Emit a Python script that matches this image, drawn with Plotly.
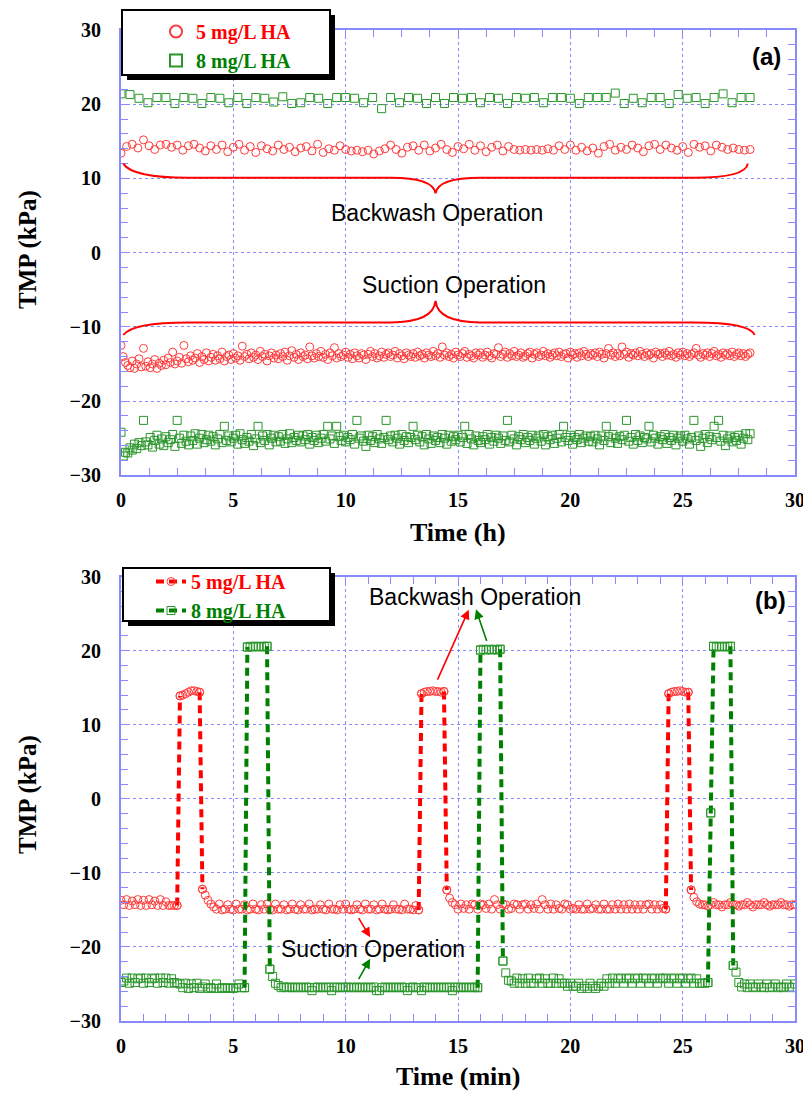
import plotly.graph_objects as go

# ---------------- DATA ----------------
# Panel (a): long-term operation, time in hours
a_bw5_t0, a_bw5_dt = 0.0, 0.25      # 5 mg/L backwash samples (h)
a_bw8_t0, a_bw8_dt = 0.0, 0.4       # 8 mg/L backwash samples (h)
a_su_t0, a_su_dt = 0.0, 0.1         # suction samples (h)

a_backwash_5 = [
    13.4, 14.3, 14.6, 14.1, 15.2, 14.4, 13.9, 14.5,
    14.6, 14.2, 14.5, 13.8, 14.4, 14.6, 14.1, 13.7,
    14.4, 13.9, 14.5, 13.6, 14.2, 14.6, 13.8, 14.3,
    13.5, 14.4, 14.0, 13.7, 14.5, 13.9, 14.2, 13.6,
    14.1, 14.3, 13.7, 14.6, 13.5, 14.0, 13.8, 14.4,
    13.9, 13.7, 13.8, 13.6, 13.8, 13.3, 13.7, 14.0,
    14.5, 13.9, 13.4, 14.2, 14.4, 13.8, 14.5, 13.7,
    14.1, 14.6, 13.9, 13.5, 14.3, 14.0, 14.6, 13.8,
    14.4, 13.6, 14.2, 14.5, 13.7, 14.3, 13.9, 13.8,
    13.9, 13.8, 13.9, 13.8, 14.0, 13.8, 14.4, 13.9,
    14.5, 13.8, 14.2, 13.7, 14.1, 13.4, 14.3, 14.6,
    13.8, 14.2, 13.9, 14.5, 14.1, 13.6, 14.4, 14.6,
    13.9, 14.5, 14.1, 13.8, 14.3, 13.5, 14.6, 14.2,
    14.4, 13.7, 14.5, 14.2, 13.9, 14.1, 13.9, 13.8,
    13.9,
]
a_backwash_8 = [
    21.4, 21.3, 20.8, 20.2, 20.9, 20.9, 20.1, 20.9, 20.8, 20.1,
    20.9, 20.8, 20.2, 20.9, 20.1, 20.9, 20.8, 20.3, 21.0, 20.1,
    20.2, 20.9, 20.8, 20.1, 20.9, 20.9, 20.8, 20.2, 20.9, 19.4,
    20.9, 20.2, 20.9, 20.8, 20.1, 20.9, 20.1, 20.9, 20.8, 20.9,
    20.2, 20.9, 20.8, 20.1, 20.9, 20.8, 20.9, 20.2, 20.9, 20.9,
    20.8, 20.1, 20.9, 20.9, 20.9, 21.5, 20.1, 20.8, 20.2, 20.9,
    20.9, 20.1, 21.3, 20.8, 20.9, 20.1, 20.9, 21.4, 20.2, 20.9,
    20.9,
]
a_suction_5 = [
    -12.5, -14.0, -14.8, -15.2, -15.5, -14.6, -15.6, -15.0, -14.3, -15.4,
    -12.9, -15.3, -14.7, -15.5, -15.0, -14.4, -15.6, -14.9, -15.2, -14.5,
    -15.1, -14.2, -14.8, -13.4, -15.0, -14.6, -14.1, -14.9, -12.5, -14.3,
    -14.7, -13.9, -14.5, -14.2, -13.6, -14.8, -14.0, -14.4, -13.5, -14.6,
    -14.1, -13.7, -14.5, -13.9, -14.3, -13.4, -14.6, -14.0, -13.8, -14.4,
    -13.6, -14.2, -13.9, -14.5, -12.6, -14.0, -13.7, -14.3, -13.5, -14.1,
    -13.8, -14.4, -13.3, -14.0, -13.7, -14.6, -13.9, -13.5, -14.2, -13.8,
    -14.3, -13.6, -14.0, -13.4, -14.5, -13.9, -13.2, -14.1, -13.7, -14.4,
    -13.5, -14.0, -13.8, -14.3, -12.7, -13.9, -14.2, -13.6, -14.0, -13.3,
    -14.1, -13.7, -14.4, -13.5, -13.9, -12.8, -14.2, -13.6, -14.0, -13.8,
    -13.4, -14.1, -13.7, -14.3, -13.5, -13.9, -14.2, -13.6, -13.8, -14.4,
    -13.7, -13.3, -14.0, -13.6, -14.2, -13.9, -13.4, -14.1, -13.7, -13.5,
    -14.0, -13.8, -13.3, -14.2, -13.6, -13.9, -14.3, -13.5, -13.8, -14.0,
    -13.6, -14.1, -13.4, -13.9, -13.7, -14.2, -13.5, -13.8, -14.0, -13.3,
    -13.9, -13.6, -14.1, -12.7, -13.8, -13.5, -14.0, -13.7, -14.2, -13.4,
    -13.8, -14.0, -13.6, -13.3, -14.1, -13.7, -13.9, -14.2, -13.5, -13.8,
    -13.5, -14.1, -13.8, -13.4, -13.9, -14.2, -13.6, -13.7, -12.8, -14.0,
    -13.7, -13.4, -14.1, -13.6, -13.9, -13.3, -14.0, -13.8, -13.5, -14.1,
    -13.9, -13.6, -13.4, -14.2, -13.7, -13.5, -14.0, -13.8, -13.3, -13.9,
    -13.6, -14.1, -13.8, -13.5, -13.9, -13.4, -14.0, -13.7, -13.6, -14.2,
    -13.4, -13.8, -13.6, -14.1, -13.5, -13.9, -13.3, -13.7, -14.0, -13.6,
    -13.8, -13.5, -14.0, -13.4, -13.7, -14.2, -13.6, -12.9, -13.8, -13.5,
    -14.0, -13.6, -13.9, -12.7, -13.7, -13.4, -14.1, -13.6, -13.8, -13.5,
    -13.9, -13.3, -13.7, -14.0, -13.5, -13.8, -13.6, -14.2, -13.4, -13.7,
    -13.6, -14.0, -13.5, -13.8, -13.3, -13.9, -13.7, -14.1, -13.5, -13.8,
    -13.4, -13.9, -13.6, -14.0, -13.7, -13.5, -12.9, -13.8, -14.1, -13.6,
    -13.8, -13.5, -14.0, -13.6, -13.3, -13.9, -13.7, -14.1, -13.5, -13.8,
    -13.6, -13.9, -13.4, -14.0, -13.7, -13.5, -13.9, -13.6, -14.0, -13.7,
    -13.5,
]
a_suction_8 = [
    -24.2, -27.4, -26.9, -27.0, -26.3, -26.6, -25.8, -26.4, -25.6, -26.0,
    -22.6, -25.5, -25.9, -24.9, -26.2, -25.3, -24.6, -25.8, -25.1, -26.0,
    -24.8, -25.6, -25.2, -24.5, -26.1, -22.6, -25.0, -25.7, -24.6, -25.4,
    -25.9, -24.7, -25.3, -24.4, -25.8, -25.0, -24.5, -25.6, -25.2, -24.6,
    -25.4, -24.8, -25.9, -25.1, -24.5, -25.6, -23.4, -25.3, -24.7, -25.5,
    -25.0, -24.6, -25.8, -24.4, -25.2, -25.7, -24.9, -25.4, -24.5, -26.0,
    -25.1, -23.4, -25.6, -24.7, -25.3, -24.5, -25.9, -25.0, -24.6, -25.5,
    -24.8, -25.4, -24.5, -25.7, -25.1, -24.4, -25.6, -24.9, -25.3, -24.6,
    -25.5, -24.7, -25.2, -24.5, -25.8, -24.9, -25.3, -24.6, -25.6, -25.0,
    -24.5, -25.4, -23.4, -25.1, -24.7, -25.7, -23.4, -24.8, -25.3, -24.6,
    -25.5, -24.9, -25.2, -24.5, -25.8, -22.6, -25.0, -24.7, -25.4, -26.1,
    -24.6, -25.3, -24.8, -25.6, -24.5, -25.1, -25.7, -24.9, -22.6, -25.2,
    -24.7, -25.5, -24.6, -25.0, -25.8, -24.5, -25.3, -24.8, -25.6, -24.9,
    -23.4, -25.2, -24.6, -25.5, -24.8, -25.9, -24.5, -25.1, -25.7, -24.7,
    -25.3, -24.9, -25.6, -24.5, -25.0, -25.8, -24.6, -25.4, -24.8, -25.2,
    -24.6, -25.5, -24.9, -23.4, -25.7, -24.5, -25.1, -25.9, -24.7, -25.3,
    -25.6, -24.8, -25.2, -24.5, -25.8, -24.9, -25.4, -24.6, -25.0, -25.7,
    -24.7, -25.3, -22.6, -25.5, -24.6, -25.1, -25.9, -24.8, -25.2, -24.5,
    -25.6, -24.9, -25.3, -24.6, -25.8, -25.0, -24.7, -25.4, -24.5, -25.9,
    -24.8, -25.2, -24.6, -25.7, -25.0, -24.5, -25.5, -23.4, -24.9, -25.3,
    -24.6, -25.8, -24.9, -25.2, -24.5, -25.6, -25.0, -24.7, -25.4, -24.8,
    -25.5, -24.6, -25.1, -25.9, -24.7, -25.3, -23.4, -24.8, -25.6, -24.5,
    -25.0, -25.7, -24.8, -25.2, -24.6, -22.6, -25.4, -24.9, -25.8, -24.5,
    -25.3, -24.7, -25.6, -24.9, -25.1, -23.4, -25.5, -24.6, -25.0, -25.8,
    -24.8, -25.2, -24.5, -25.7, -24.9, -25.3, -24.6, -25.9, -25.0, -24.7,
    -25.4, -24.6, -25.1, -25.8, -24.9, -22.6, -25.3, -24.7, -26.1, -25.0,
    -24.5, -25.6, -24.8, -25.2, -23.4, -24.9, -22.6, -25.4, -24.6, -26.0,
    -25.1, -24.7, -25.5, -24.9, -25.3, -24.6, -25.8, -25.0, -24.4, -25.2,
    -24.4,
]

# Panel (b): three filtration cycles, time in minutes
b_t0, b_dt = 0.0, 0.125
b_tmp_5 = [
    # 0 - 2.5 min suction
    -13.7, -14.3, -13.6, -14.4, -13.8, -14.3, -13.6, -14.4, -13.7, -14.4,
    -13.6, -14.3, -13.8, -14.4, -13.6, -14.4, -13.9, -14.4, -14.4, -14.4, -14.4,
    # backwash 1
    13.9, 14.0, 14.2, 14.4, 14.6, 14.6, 14.5, 14.4,
    -12.2, -13.0, -13.7, -14.2, -14.6,
    # suction
    -14.9, -14.2, -15.0, -14.9, -14.3, -14.9, -15.0, -14.2, -14.9, -14.9,
    -14.3, -15.0, -14.9, -14.2, -14.9, -15.0, -14.3, -14.9, -14.2, -14.9,
    -15.0, -14.2, -14.9, -14.9, -14.3, -15.0, -14.9, -14.2, -14.9, -15.0,
    -14.3, -14.9, -14.9, -14.2, -15.0, -14.9, -14.9, -14.3, -14.9, -15.0,
    -14.2, -14.9, -14.9, -15.0, -14.3, -14.9, -14.2, -14.9, -15.0, -14.9,
    -14.3, -14.9, -15.0, -14.2, -14.9, -14.9, -14.3, -15.0, -14.9, -14.2,
    -14.9, -15.0, -14.9, -14.3, -14.9, -14.9, -15.0, -14.2, -14.9, -14.9,
    -15.0, -14.4, -15.0,
    # backwash 2
    14.2, 14.4, 14.5, 14.5, 14.6, 14.5, 14.5, 14.4, 14.5,
    -12.3, -13.4, -14.0,
    # suction
    -14.3, -14.9, -14.2, -14.8, -14.3, -14.9, -14.2, -14.3, -14.9, -14.2,
    -14.3, -14.8, -14.2, -14.9, -13.6, -14.3, -14.9, -14.2, -14.3, -14.9,
    -14.8, -14.2, -14.3, -14.9, -14.3, -14.2, -14.9, -14.3, -14.8, -14.2,
    -14.9, -13.6, -14.3, -14.9, -14.2, -14.9, -14.3, -14.8, -14.9, -14.2,
    -14.3, -14.9, -14.8, -14.9, -14.3, -14.9, -14.9, -14.2, -14.9, -14.8,
    -14.3, -14.9, -14.9, -14.2, -14.9, -14.9, -14.3, -14.9, -14.2, -14.9,
    -14.3, -14.9, -14.2, -14.9, -14.3, -14.9, -14.3, -14.9, -14.3, -14.2,
    -14.9, -14.3, -14.9, -14.3, -14.8, -14.9,
    # backwash 3
    14.2, 14.4, 14.5, 14.5, 14.6, 14.5, 14.4, 14.4,
    -12.3, -13.3, -13.9, -14.2,
    # suction
    -14.3, -14.3, -14.5, -14.3, -14.0, -14.3, -14.3, -14.6, -14.3, -14.3,
    -14.0, -14.3, -14.3, -14.5, -14.3, -14.3, -14.0, -14.3, -14.6, -14.3,
    -14.3, -14.3, -14.0, -14.3, -14.5, -14.3, -14.3, -14.3, -14.0, -14.3,
    -14.3, -14.5, -14.3, -14.3,
]
b_tmp_8 = [
    # suction
    -24.8, -24.6, -24.2, -24.9, -24.2, -24.8, -24.3, -24.2, -24.9, -24.2,
    -24.8, -24.3, -24.2, -24.9, -24.2, -24.8, -24.2, -24.9, -24.3, -24.8,
    -24.9, -25.0, -25.5, -24.9, -25.6, -25.0, -25.5, -24.9, -25.6, -25.4,
    -25.0, -25.6, -25.5, -25.6, -25.0, -25.6, -25.5, -25.6, -25.5, -25.6,
    -25.6, -25.5, -25.0, -25.5, -25.5,
    # backwash 1
    20.5, 20.6, 20.5, 20.6, 20.6, 20.5, 20.6, 20.6,
    -23.0, -24.0, -24.9,
    # suction
    -25.2, -25.5, -25.4, -25.5, -25.4, -25.5, -25.5, -25.4, -25.5, -25.5,
    -25.4, -25.5, -25.9, -25.5, -25.4, -25.5, -25.5, -25.4, -25.5, -25.9,
    -25.4, -25.5, -25.5, -25.4, -25.5, -25.4, -25.5, -25.5, -25.4, -25.5,
    -25.5, -25.4, -25.5, -25.5, -25.4, -25.9, -25.9, -25.5, -25.4, -25.5,
    -25.5, -25.4, -25.5, -25.5, -25.4, -25.5, -25.9, -25.5, -25.4, -25.5,
    -25.5, -25.9, -25.4, -25.5, -25.5, -25.4, -25.5, -25.5, -25.4, -25.5,
    -25.5, -25.4, -25.9, -25.5, -25.4, -25.5, -25.5, -25.4, -25.5, -25.5,
    -25.4, -25.5,
    # backwash 2
    20.1, 20.2, 20.1, 20.2, 20.1, 20.2, 20.1, 20.2,
    -21.9, -23.5, -24.5,
    # suction
    -24.6, -24.9, -24.2, -24.9, -24.3, -24.9, -24.2, -24.9, -24.9, -24.3,
    -24.2, -24.9, -24.3, -24.9, -24.9, -24.2, -24.9, -24.3, -24.9, -24.9,
    -25.3, -24.9, -25.3, -25.3, -24.9, -25.6, -25.3, -25.6, -24.9, -25.3,
    -25.6, -25.3, -24.9, -25.3, -24.3, -24.9, -24.2, -24.9, -24.3, -24.2,
    -24.9, -24.3, -24.2, -24.9, -24.3, -24.2, -24.9, -24.2, -24.3, -24.9,
    -24.2, -24.3, -24.9, -24.2, -24.3, -24.2, -24.9, -24.3, -24.2, -24.9,
    -24.3, -24.2, -24.9, -24.3, -24.2, -24.9, -24.3, -24.9, -24.9, -24.9,
    -24.8,
    # backwash 3
    -1.9,
    20.6, 20.5, 20.6, 20.6, 20.5, 20.6, 20.6,
    -22.5, -23.4, -24.8,
    # suction
    -25.4, -25.0, -25.5, -25.0, -25.4, -25.5, -25.0, -25.4, -25.5, -25.0,
    -25.5, -25.4, -25.0, -25.5, -25.4, -25.5, -25.0, -25.4, -25.5, -25.0,
]

series_names = ["5 mg/L HA", "8 mg/L HA"]
x_ticks = [0, 5, 10, 15, 20, 25, 30]
y_ticks = [-30, -20, -10, 0, 10, 20, 30]

# ---------------- STYLE / LAYOUT ----------------
OFF = 8                      # page body margin of the browser
W, H = 811 - OFF, 1093 - OFF
ML, MT = 121 - OFF, 30 - OFF
MR = W - (795 - OFF)
MB = H - (1021 - OFF)
PW, PH = W - ML - MR, H - MT - MB

def px_x(sx):
    # screen pixel -> paper fraction
    return (sx - OFF - ML) / PW

def px_y(sy):
    return (H - MB - (sy - OFF)) / PH

def times(t0, dt, n):
    return [round(t0 + i * dt, 4) for i in range(n)]

def transitions(t, v, thr=5.0):
    xs, ys = [], []
    for i in range(len(v) - 1):
        if abs(v[i + 1] - v[i]) > thr:
            if xs and xs[-1] == t[i]:
                xs.append(t[i + 1]); ys.append(v[i + 1])
            else:
                if xs:
                    xs.append(None); ys.append(None)
                xs += [t[i], t[i + 1]]; ys += [v[i], v[i + 1]]
    return xs, ys

RED, GREEN = "#ff3a3a", "#2a962a"
RED_L, GREEN_L = "#ff0000", "#008000"
AX = "#8a8aff"
SERIF = "Liberation Serif, Times New Roman, serif"
SANS = "Liberation Sans, Arial, sans-serif"

def leg_name(name, color):
    return f"<b><span style='color:{color}'>{name}</span></b>"

fig = go.Figure()

mk5 = dict(symbol="circle-open", size=8, color=RED, line=dict(width=1, color=RED))
mk8 = dict(symbol="square-open", size=8, color=GREEN, line=dict(width=1, color=GREEN))

# Panel (a)
fig.add_trace(go.Scatter(x=times(a_bw5_t0, a_bw5_dt, len(a_backwash_5)), y=a_backwash_5,
                         mode="markers", marker=mk5, name=leg_name(series_names[0], RED_L),
                         legend="legend", xaxis="x", yaxis="y"))
fig.add_trace(go.Scatter(x=times(a_bw8_t0, a_bw8_dt, len(a_backwash_8)), y=a_backwash_8,
                         mode="markers", marker=mk8, name=leg_name(series_names[1], GREEN_L),
                         legend="legend", xaxis="x", yaxis="y"))
fig.add_trace(go.Scatter(x=times(a_su_t0, a_su_dt, len(a_suction_5)), y=a_suction_5,
                         mode="markers", marker=mk5, showlegend=False, xaxis="x", yaxis="y"))
fig.add_trace(go.Scatter(x=times(a_su_t0, a_su_dt, len(a_suction_8)), y=a_suction_8,
                         mode="markers", marker=mk8, showlegend=False, xaxis="x", yaxis="y"))

# Panel (b)
tb5 = times(b_t0, b_dt, len(b_tmp_5))
tb8 = times(b_t0, b_dt, len(b_tmp_8))
for t, v, mk, lc, nm in [(tb5, b_tmp_5, mk5, RED_L, leg_name(series_names[0], RED_L)),
                         (tb8, b_tmp_8, mk8, GREEN_L, leg_name(series_names[1], GREEN_L))]:
    fig.add_trace(go.Scatter(x=t, y=v, mode="markers", marker=mk, showlegend=False,
                             xaxis="x2", yaxis="y2"))
    tx, ty = transitions(t, v)
    fig.add_trace(go.Scatter(x=tx, y=ty, mode="lines+markers", marker=mk,
                             line=dict(color=lc, width=4, dash="8px,5px"),
                             name=nm, legend="legend2", xaxis="x2", yaxis="y2"))

tickfont = dict(family=SERIF, size=20, color="black", weight="bold")
common_axis = dict(range=[0, 30], showline=True, linecolor=AX, linewidth=2, mirror="ticks",
                   ticks="inside", ticklen=7, tickcolor=AX, tickwidth=1,
                   showgrid=True, gridcolor=AX, gridwidth=1, griddash="dot",
                   zeroline=False, tickfont=tickfont, automargin=False)

fig.update_layout(
    width=W, height=H, margin=dict(l=ML, r=MR, t=MT, b=MB, autoexpand=False),
    paper_bgcolor="white", plot_bgcolor="white",
    xaxis=dict(common_axis, domain=[0, 1], anchor="y", tickvals=x_ticks,
               minor=dict(dtick=1.25, tick0=0, ticks="inside", ticklen=7, tickcolor=AX, showgrid=False),
               ticklabelstandoff=6),
    yaxis=dict(common_axis, range=[-30, 30], domain=[px_y(475.3), 1], anchor="x", tickvals=y_ticks,
               minor=dict(dtick=2, tick0=0, ticks="inside", ticklen=7, tickcolor=AX, showgrid=False),
               ticklabelstandoff=14),
    xaxis2=dict(common_axis, domain=[0, 1], anchor="y2", tickvals=x_ticks,
                minor=dict(dtick=1, tick0=0, ticks="inside", ticklen=7, tickcolor=AX, showgrid=False),
                ticklabelstandoff=6),
    yaxis2=dict(common_axis, range=[-30, 30], domain=[0, px_y(576.7)], anchor="x2", tickvals=y_ticks,
                minor=dict(dtick=2, tick0=0, ticks="inside", ticklen=7, tickcolor=AX, showgrid=False),
                ticklabelstandoff=14),
    legend=dict(x=px_x(156), y=px_y(12), xanchor="left", yanchor="top", bgcolor="rgba(0,0,0,0)",
                borderwidth=0, font=dict(family=SERIF, size=20), tracegroupgap=0, itemsizing="constant"),
    legend2=dict(x=px_x(151), y=px_y(562), xanchor="left", yanchor="top", bgcolor="rgba(0,0,0,0)",
                 borderwidth=0, font=dict(family=SERIF, size=20), tracegroupgap=0),
    showlegend=True,
)

shapes = []
# legend boxes with drop shadow
for (x0, y0, x1, y1) in [(122, 10, 330, 75), (123, 568, 330, 621)]:
    shapes.append(dict(type="rect", xref="paper", yref="paper", layer="above",
                       x0=px_x(x0 + 5), x1=px_x(x1 + 5), y0=px_y(y1 + 5), y1=px_y(y0 + 5),
                       fillcolor="black", line=dict(width=0)))
    shapes.append(dict(type="rect", xref="paper", yref="paper", layer="above",
                       x0=px_x(x0), x1=px_x(x1), y0=px_y(y1), y1=px_y(y0),
                       fillcolor="white", line=dict(color="black", width=2)))
# curly braces in panel (a)
shapes.append(dict(type="path", xref="x", yref="y", layer="above",
                   path="M 0.1,12.0 Q 0.5,10.1 3.0,10.1 L 12.0,10.1 Q 13.9,10.1 14.0,8.0 "
                        "Q 14.1,10.1 16.0,10.1 L 25.5,10.1 Q 27.8,10.1 27.9,12.0",
                   line=dict(color=RED_L, width=2)))
shapes.append(dict(type="path", xref="x", yref="y", layer="above",
                   path="M 0.1,-11.1 Q 0.5,-9.4 3.0,-9.4 L 12.0,-9.4 Q 13.9,-9.4 14.0,-6.5 "
                        "Q 14.1,-9.4 16.0,-9.4 L 25.5,-9.4 Q 28.0,-9.4 28.2,-11.1",
                   line=dict(color=RED_L, width=2)))
fig.update_layout(shapes=shapes)

txt = dict(family=SANS, size=23, color="black")
ctr = dict(xanchor="center", yanchor="middle", showarrow=False)
ann = [
    dict(ctr, text="Backwash Operation", x=14.06, y=5.4, xref="x", yref="y", font=txt),
    dict(ctr, text="Suction Operation", x=14.8, y=-4.4, xref="x", yref="y", font=txt),
    dict(ctr, text="<b>(a)</b>", x=28.75, y=26.4, xref="x", yref="y",
         font=dict(family=SANS, size=24, color="black")),
    dict(ctr, text="Backwash Operation", x=15.76, y=27.3, xref="x2", yref="y2", font=txt),
    dict(ctr, text="Suction Operation", x=11.2, y=-20.3, xref="x2", yref="y2", font=txt),
    dict(ctr, text="<b>(b)</b>", x=28.9, y=26.8, xref="x2", yref="y2",
         font=dict(family=SANS, size=24, color="black")),
    # axis titles
    dict(ctr, text="<b>Time (h)</b>", x=px_x(458), y=px_y(532), xref="paper", yref="paper",
         font=dict(family=SERIF, size=26, color="black")),
    dict(ctr, text="<b>Time (min)</b>", x=px_x(458), y=px_y(1076), xref="paper", yref="paper",
         font=dict(family=SERIF, size=26, color="black")),
    dict(ctr, text="<b>TMP (kPa)</b>", x=px_x(28), y=px_y(250), xref="paper", yref="paper",
         textangle=-90, font=dict(family=SERIF, size=25, color="black")),
    dict(ctr, text="<b>TMP (kPa)</b>", x=px_x(28), y=px_y(795), xref="paper", yref="paper",
         textangle=-90, font=dict(family=SERIF, size=25, color="black")),
]
# arrows in panel (b)
for (hx, hy, tx_, ty_, c) in [(15.48, 25.55, 14.06, 15.9, RED_L), (15.8, 25.6, 16.3, 21.1, GREEN_L),
                               (11.09, -18.7, 10.54, -15.9, RED_L), (11.09, -21.6, 10.54, -24.56, GREEN_L)]:
    ann.append(dict(text="", x=hx, y=hy, ax=tx_, ay=ty_, xref="x2", yref="y2", axref="x2", ayref="y2",
                    showarrow=True, arrowhead=2, arrowsize=1.2, arrowwidth=1.6, arrowcolor=c))
fig.update_layout(annotations=ann)

fig.write_html("out.html")
